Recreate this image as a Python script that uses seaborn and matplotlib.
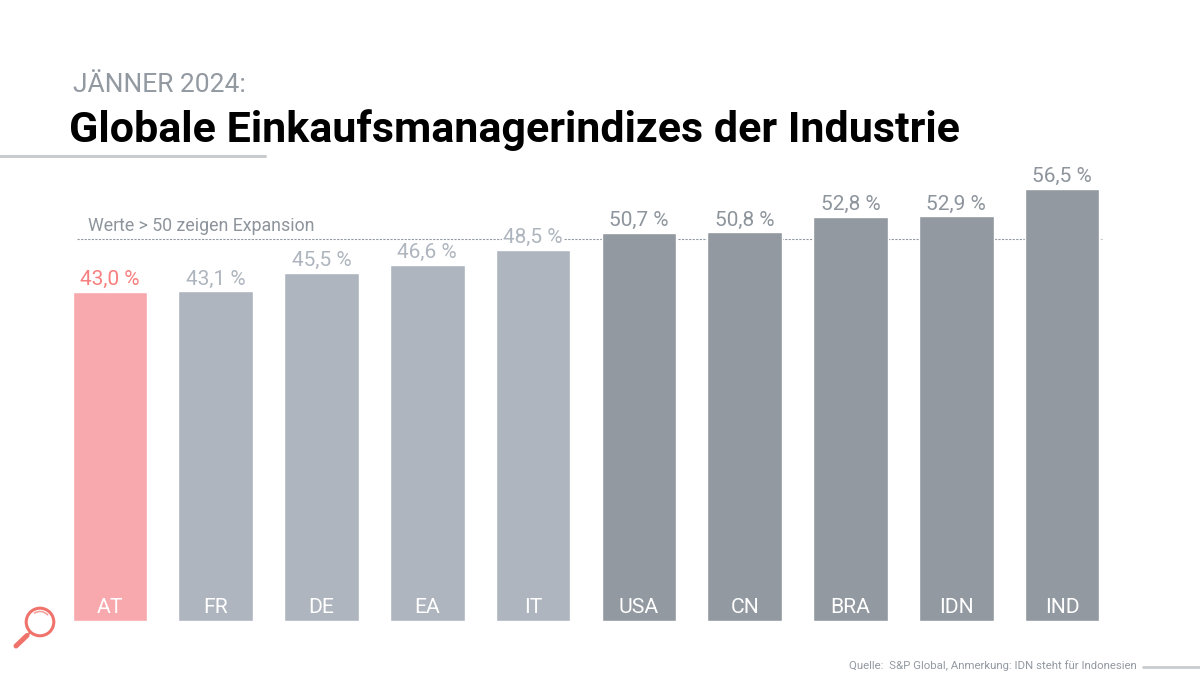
import matplotlib
matplotlib.use('Agg')
import matplotlib.pyplot as plt
from matplotlib.patches import Circle, Arc
from matplotlib.lines import Line2D
import pandas as pd
import seaborn as sns

# values
laender = ['AT', 'FR', 'DE', 'EA', 'IT', 'USA', 'CN', 'BRA', 'IDN', 'IND']
werte = [43.0, 43.1, 45.5, 46.6, 48.5, 50.7, 50.8, 52.8, 52.9, 56.5]
gruppe = ['at', 'unter', 'unter', 'unter', 'unter', 'ueber', 'ueber', 'ueber', 'ueber', 'ueber']
farben = {'at': '#f8a9ad', 'unter': '#aeb5be', 'ueber': '#9299a1'}
text_farben = {'at': '#f77f7f', 'unter': '#aeb5be', 'ueber': '#8d949c'}
schwelle = 50

df = pd.DataFrame({'land': laender, 'wert': werte, 'gruppe': gruppe})

sns.set_theme(style='white')
plt.rcParams['font.family'] = ['Roboto', 'DejaVu Sans']

W, H = 1200, 679
fig = plt.figure(figsize=(W / 100, H / 100), dpi=100, facecolor='white')
# axes placed so that 0 sits at y=621 and bars are centred at x=110...1062
ax = fig.add_axes([57 / W, 1 - 621 / H, 1058 / W, 481 / H])

sns.barplot(data=df, x='land', y='wert', hue='gruppe', palette=farben, dodge=False,
            width=0.705, legend=False, ax=ax, saturation=1, zorder=2)
ax.set_xlim(-0.5, 9.5)
ax.set_ylim(0, 481 / 7.65)
ax.axis('off')

# dashed line behind the bars
ax.plot([-0.31, 9.38], [schwelle, schwelle], color='#9299a1', lw=0.8, ls=(0, (2, 1.2)), zorder=1)
ax.text(-0.21, 50.5, 'Werte > 50 zeigen Expansion', color='#8d949c', fontsize=12.8,
        va='bottom', ha='left')

for i, (land, wert, g) in enumerate(zip(laender, werte, gruppe)):
    ax.annotate(f'{wert:.1f} %'.replace('.', ','), (i, wert), xytext=(0, 2), textcoords='offset points',
                ha='center', va='bottom', fontsize=15, color=text_farben[g],
                bbox=dict(fc='white', ec='none', pad=0.8), zorder=3)
    ax.annotate(land, (i, 0), xytext=(0, 3), textcoords='offset points', ha='center', va='bottom',
                fontsize=15.2, color='white', zorder=4)

# header
fig.text(73 / W, 1 - 85 / H, 'JÄNNER 2024:', fontsize=19, color='#9299a1', va='center', ha='left')
fig.text(69 / W, 1 - 130 / H, 'Globale Einkaufsmanagerindizes der Industrie', fontsize=31,
         fontweight='bold', color='black', va='center', ha='left')
fig.add_artist(Line2D([0, 265 / W], [1 - 156 / H, 1 - 156 / H], color='#c9cccf', lw=2.2,
                      transform=fig.transFigure))

# footer
fig.text(1137 / W, 1 - 666 / H, 'Quelle:  S&P Global, Anmerkung: IDN steht für Indonesien', fontsize=8.2,
         color='#9299a1', va='center', ha='right')
fig.add_artist(Line2D([1143 / W, 1], [1 - 667 / H, 1 - 667 / H], color='#c9cccf', lw=2,
                      transform=fig.transFigure))

# magnifier icon, in pixel coordinates
bg = fig.add_axes([0, 0, 1, 1], zorder=-1)
bg.set_xlim(0, W)
bg.set_ylim(H, 0)
bg.axis('off')
rot = '#f0736b'
bg.add_patch(Circle((40, 622), 13.8, fill=False, ec=rot, lw=2.2))
bg.add_patch(Arc((40, 622), 21, 21, angle=0, theta1=235, theta2=320, ec='#f39c96', lw=1.1))
bg.plot([30.5, 27], [632, 635.5], color=rot, lw=1.5)
bg.plot([27, 16], [635.5, 646], color=rot, lw=3.6, solid_capstyle='round')

fig.savefig('out.png', dpi=100)
